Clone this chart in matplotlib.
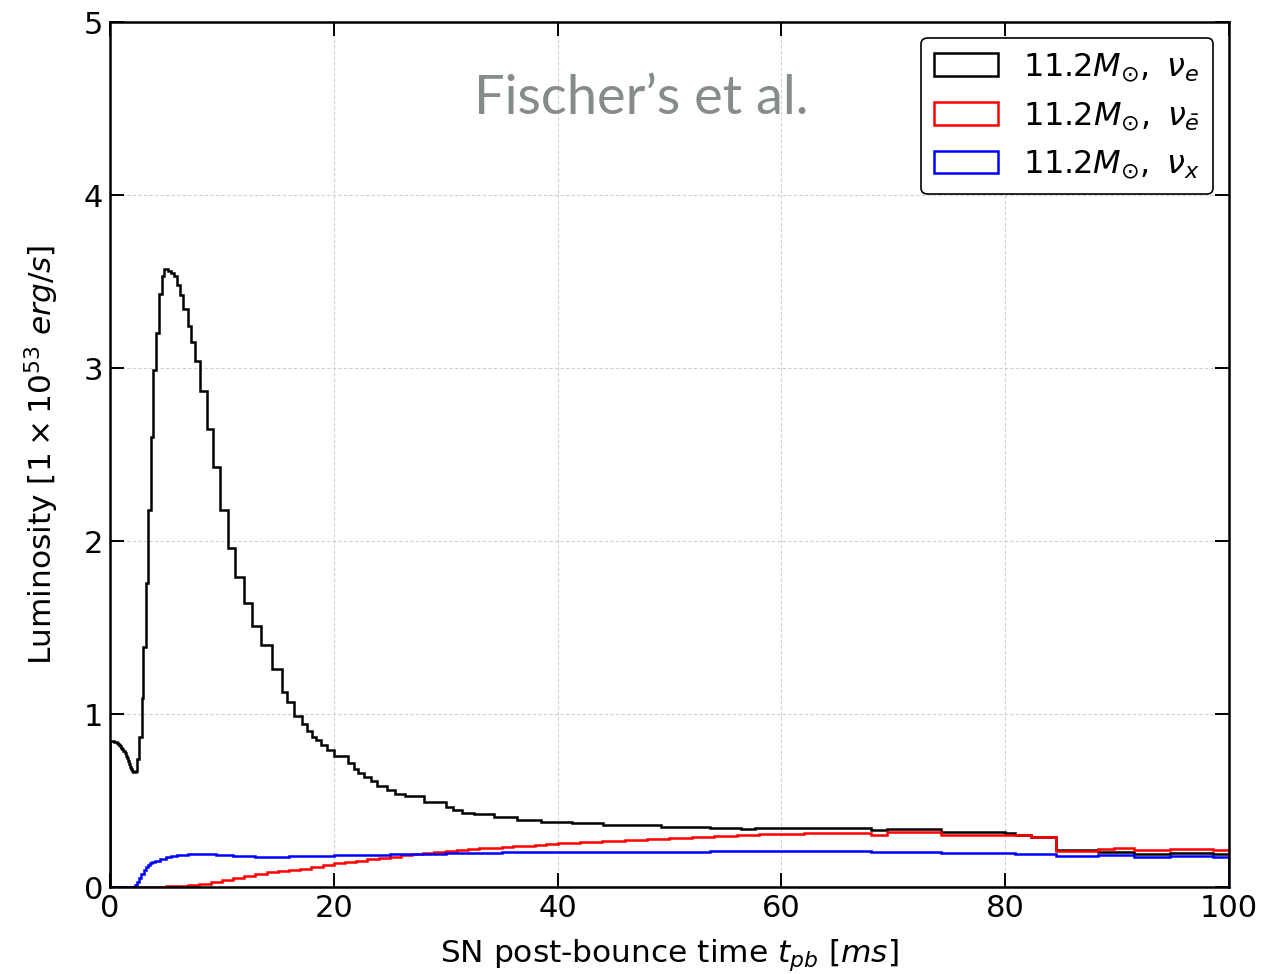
import matplotlib
matplotlib.use('Agg')
import matplotlib.pyplot as plt
import numpy as np

# bin edges [ms] and luminosities [1e53 erg/s]
nue_edges = [0.0, 0.1, 0.2, 0.3, 0.4, 0.5, 0.6, 0.7, 0.8, 0.9, 1.0, 1.1, 1.2, 1.3, 1.4, 1.5,
             1.6, 1.7, 1.8, 1.9, 2.0, 2.1, 2.2, 2.3, 2.4, 2.63, 2.84, 2.99, 3.22, 3.43, 3.64,
             3.88, 4.12, 4.42, 4.63, 4.87, 5.2, 5.46, 5.73, 5.97, 6.27, 6.57, 6.93, 7.22, 7.61,
             8.06, 8.66, 9.25, 9.85, 10.54, 11.19, 11.94, 12.69, 13.52, 14.48, 15.37, 15.82,
             16.42, 17.16, 17.61, 18.06, 18.45, 18.87, 19.4, 20.0, 21.3, 21.8, 22.2, 22.7, 23.3,
             23.9, 24.8, 25.5, 26.4, 28.1, 30.0, 30.7, 31.5, 32.5, 34.3, 36.4, 38.5, 41.3, 44.1,
             49.2, 53.6, 56.4, 57.6, 68.0, 69.4, 74.3, 80.0, 80.9, 82.3, 84.5, 88.3, 91.5, 94.7,
             98.6, 100.0]
nue_lum = [0.842, 0.843, 0.843, 0.842, 0.840, 0.837, 0.833, 0.828, 0.822, 0.815, 0.806, 0.796,
           0.785, 0.772, 0.758, 0.743, 0.727, 0.711, 0.696, 0.683, 0.672, 0.666, 0.664, 0.668,
           0.74, 0.87, 1.09, 1.39, 1.76,
           2.18, 2.60, 2.99, 3.20, 3.43, 3.53, 3.57, 3.56, 3.55, 3.53, 3.48, 3.42, 3.34, 3.24,
           3.15, 3.04, 2.87, 2.65, 2.43, 2.18, 1.96, 1.79, 1.64, 1.51, 1.40, 1.26, 1.13, 1.07,
           0.99, 0.94, 0.90, 0.87, 0.85, 0.82, 0.79, 0.755, 0.715, 0.685, 0.66, 0.638, 0.613,
           0.584, 0.56, 0.54, 0.526, 0.493, 0.464, 0.445, 0.43, 0.424, 0.405, 0.39, 0.376, 0.368,
           0.358, 0.347, 0.341, 0.337, 0.341, 0.329, 0.333, 0.317, 0.313, 0.303, 0.289, 0.214,
           0.2, 0.19, 0.194, 0.19]

nuebar_edges = [0, 3, 4, 5, 6, 7, 8, 9, 10, 11, 12, 13, 14, 15, 16, 17, 18, 19, 20, 21, 22, 23,
                24, 25, 26, 27, 28, 29, 30, 31, 32, 33, 34, 35, 36, 37, 38, 39, 40, 42, 44, 46,
                48, 50, 52, 54, 56, 58, 62, 68.0, 69.4, 74.3, 80.0, 80.9, 82.3, 84.5, 88.3,
                89.7, 91.5, 94.7, 98.6, 100]
nuebar_lum = [0.0, 0.001, 0.003, 0.005, 0.008, 0.013, 0.02, 0.03, 0.042, 0.055, 0.066, 0.076,
              0.084, 0.09, 0.097, 0.105, 0.115, 0.128, 0.138, 0.146, 0.153, 0.16, 0.168, 0.176,
              0.184, 0.19, 0.196, 0.2, 0.206, 0.212, 0.218, 0.223, 0.228, 0.232, 0.236, 0.24,
              0.244, 0.248, 0.252, 0.258, 0.264, 0.27, 0.276, 0.282, 0.288, 0.294, 0.298, 0.304,
              0.31, 0.303, 0.317, 0.303, 0.303, 0.298, 0.289, 0.21, 0.218, 0.224, 0.214, 0.222,
              0.214]

nux_edges = [0, 2.0, 2.2, 2.4, 2.6, 2.8, 3.0, 3.2, 3.4, 3.6, 3.8, 4.0, 4.5, 5.0, 5.5, 6.0, 7.0,
             8.0, 9.5, 11.0, 13.0, 16.0, 20.0, 25.0, 30.0, 35.0, 41.3, 49.2, 53.6, 57.6, 68.0,
             74.3, 80.9, 84.5, 88.3, 91.5, 94.7, 98.6, 100]
nux_lum = [0.0, 0.003, 0.012, 0.028, 0.05, 0.075, 0.097, 0.113, 0.126, 0.136, 0.144, 0.152,
           0.163, 0.172, 0.179, 0.186, 0.191, 0.192, 0.186, 0.178, 0.176, 0.178, 0.183, 0.19,
           0.196, 0.2, 0.202, 0.204, 0.208, 0.206, 0.2, 0.194, 0.19, 0.182, 0.186, 0.176, 0.18,
           0.172]

series = [(nue_edges, nue_lum, 'black', r'$11.2M_{\odot},\ \nu_e$'),
          (nuebar_edges, nuebar_lum, 'red', r'$11.2M_{\odot},\ \nu_{\bar{e}}$'),
          (nux_edges, nux_lum, 'blue', r'$11.2M_{\odot},\ \nu_x$')]

fig = plt.figure(figsize=(12.83, 9.74), dpi=100)
ax = fig.add_axes([0.0857, 0.0893, 0.8722, 0.8881])

for edges, lum, col, lab in series:
    edges = np.array(edges)
    ax.hist(edges[:-1], bins=edges, weights=lum, histtype='step', color=col, lw=1.8, label=lab)

ax.set_xlim(0, 100)
ax.set_ylim(0, 5)
ax.set_xticks([0, 20, 40, 60, 80, 100])
ax.set_yticks([0, 1, 2, 3, 4, 5])
ax.tick_params(direction='in', top=True, right=True, length=10, width=1.4, labelsize=22, pad=5)
for s in ax.spines.values():
    s.set_linewidth(1.8)
ax.grid(True, ls=(0, (3, 2)), color='#cfcfcf', lw=0.8)

ax.set_xlabel(r'SN post-bounce time $t_{pb}$ [$ms$]', fontsize=22.5, labelpad=10)
ax.set_ylabel(r'Luminosity [$1\times 10^{53}\ erg/s$]', fontsize=22.5, labelpad=16)

ax.text(0.4745, 0.912, 'Fischer\u2019s et al.', transform=ax.transAxes, ha='center', va='center',
        fontsize=39, color='#868b8b', family='Lato')

leg = ax.legend(loc='upper right', fontsize=23, framealpha=1, edgecolor='black',
                borderaxespad=0.5)
leg.get_frame().set_linewidth(1.2)

fig.savefig('out.png', dpi=100)
